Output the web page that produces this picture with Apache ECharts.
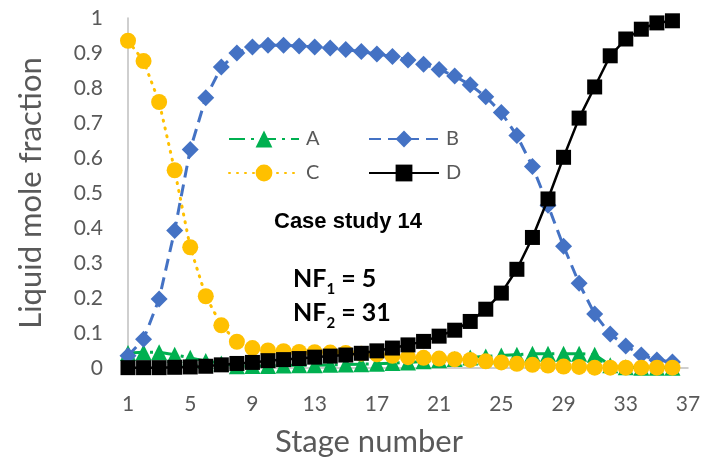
<!DOCTYPE html>
<html>
<head>
<meta charset="utf-8">
<script src="https://cdn.jsdelivr.net/npm/echarts@6/dist/echarts.min.js"></script>
<style>
  html, body { margin: 0; padding: 0; background: #fff; }
  #chart { width: 718px; height: 462px; }
</style>
</head>
<body>
<div id="chart"></div>
<script>
// Stage numbers shown on the horizontal axis (1 .. 37)
const stages = ['1','2','3','4','5','6','7','8','9','10','11','12','13','14','15','16','17','18','19',
  '20','21','22','23','24','25','26','27','28','29','30','31','32','33','34','35','36','37'];

// Liquid mole fraction of each component, stage 1 .. 36
const compA = [0.043, 0.045, 0.045, 0.038, 0.029, 0.020, 0.013, 0.005, 0.006, 0.006, 0.007, 0.008,
  0.008, 0.009, 0.010, 0.011, 0.012, 0.014, 0.016, 0.019, 0.022, 0.026, 0.030, 0.033,
  0.036, 0.038, 0.041, 0.041, 0.041, 0.041, 0.038, 0.008, 0.002, 0.001, 0.001, 0.001];
const compB = [0.035, 0.082, 0.197, 0.393, 0.624, 0.772, 0.860, 0.900, 0.917, 0.922, 0.922, 0.920,
  0.917, 0.914, 0.910, 0.904, 0.897, 0.890, 0.880, 0.868, 0.853, 0.834, 0.809, 0.775,
  0.730, 0.664, 0.576, 0.465, 0.348, 0.242, 0.154, 0.097, 0.063, 0.037, 0.023, 0.017];
const compC = [0.935, 0.877, 0.760, 0.565, 0.345, 0.205, 0.122, 0.075, 0.057, 0.050, 0.048, 0.046,
  0.045, 0.044, 0.043, 0.041, 0.039, 0.035, 0.031, 0.029, 0.027, 0.025, 0.023, 0.019,
  0.016, 0.012, 0.009, 0.007, 0.004, 0.003, 0.001, 0.001, 0.001, 0.001, 0.001, 0.001];
const compD = [0.001, 0.001, 0.001, 0.002, 0.003, 0.005, 0.009, 0.013, 0.016, 0.021, 0.024, 0.027,
  0.031, 0.034, 0.037, 0.042, 0.049, 0.057, 0.066, 0.076, 0.091, 0.108, 0.133, 0.168,
  0.214, 0.282, 0.373, 0.483, 0.602, 0.714, 0.803, 0.892, 0.940, 0.968, 0.986, 0.992];

const GRAY = '#595959';
const FONT = 'Lato, "Noto Sans", sans-serif';

const chart = echarts.init(document.getElementById('chart'), null, { renderer: 'canvas' });

const legendBase = {
  orient: 'horizontal',
  padding: 0,
  itemWidth: 70,
  itemHeight: 21,
  itemGap: 5,
  textStyle: { fontFamily: FONT, fontSize: 20, color: GRAY, padding: [0, 0, 0, 2] }
};

const subText = {
  m: { fontFamily: FONT, fontWeight: 'bold', fontSize: 25, lineHeight: 36, fill: '#000', verticalAlign: 'middle' },
  s: { fontFamily: FONT, fontWeight: 'bold', fontSize: 15, lineHeight: 15, fill: '#000', verticalAlign: 'bottom' }
};

chart.setOption({
  animation: false,
  backgroundColor: '#ffffff',
  grid: { left: 128, right: 30, top: 18, bottom: 93 },
  legend: [
    Object.assign({}, legendBase, { data: ['A'], left: 228, top: 129 }),
    Object.assign({}, legendBase, { data: ['B'], left: 368, top: 129 }),
    Object.assign({}, legendBase, { data: ['C'], left: 228, top: 163 }),
    Object.assign({}, legendBase, { data: ['D'], left: 368, top: 163 })
  ],
  xAxis: {
    type: 'category',
    data: stages,
    boundaryGap: false,
    name: 'Stage number',
    nameLocation: 'middle',
    nameGap: 58,
    nameTextStyle: { fontFamily: FONT, fontSize: 31, color: GRAY, padding: [0, 78, 0, 0] },
    axisLine: { show: true, lineStyle: { color: '#BFBFBF', width: 1.5 } },
    axisTick: { show: false },
    axisLabel: { interval: 3, margin: 26, fontFamily: FONT, fontSize: 21, color: GRAY },
    splitLine: { show: false }
  },
  yAxis: {
    type: 'value',
    min: 0,
    max: 1,
    interval: 0.1,
    name: 'Liquid mole fraction',
    nameLocation: 'middle',
    nameGap: 82,
    nameTextStyle: { fontFamily: FONT, fontSize: 31, color: GRAY },
    axisLine: { show: true, lineStyle: { color: '#BFBFBF', width: 1.5 } },
    axisTick: { show: false },
    axisLabel: { margin: 25, fontFamily: FONT, fontSize: 21, color: GRAY },
    splitLine: { show: false }
  },
  series: [
    {
      name: 'A', type: 'line', data: compA,
      showAllSymbol: true,
      symbol: 'triangle', symbolSize: 16,
      itemStyle: { color: '#00B050' },
      lineStyle: { color: '#00B050', width: 3, type: [16, 6, 3, 6] },
      z: 2
    },
    {
      name: 'B', type: 'line', data: compB,
      showAllSymbol: true,
      symbol: 'diamond', symbolSize: 17,
      itemStyle: { color: '#4472C4' },
      lineStyle: { color: '#4472C4', width: 3, type: [12, 7] },
      z: 3
    },
    {
      name: 'C', type: 'line', data: compC,
      showAllSymbol: true,
      symbol: 'circle', symbolSize: 16,
      itemStyle: { color: '#FFC000' },
      lineStyle: { color: '#FFC000', width: 3, type: [1, 7], cap: 'round' },
      z: 4
    },
    {
      name: 'D', type: 'line', data: compD,
      showAllSymbol: true,
      symbol: 'rect', symbolSize: 15,
      itemStyle: { color: '#000000' },
      lineStyle: { color: '#000000', width: 2.5 },
      z: 5
    }
  ],
  graphic: [
    {
      type: 'text', x: 274, y: 222, z: 10,
      style: {
        text: 'Case study 14',
        fontFamily: '"Liberation Sans", Arial, sans-serif',
        fontWeight: 'bold', fontSize: 22, fill: '#000',
        align: 'left', verticalAlign: 'middle'
      }
    },
    {
      type: 'text', x: 293, y: 279, z: 10,
      style: { text: '{m|NF}{s|1}{m| = 5}', align: 'left', verticalAlign: 'middle', rich: subText }
    },
    {
      type: 'text', x: 293, y: 313, z: 10,
      style: { text: '{m|NF}{s|2}{m| = 31}', align: 'left', verticalAlign: 'middle', rich: subText }
    }
  ]
});
</script>
</body>
</html>
